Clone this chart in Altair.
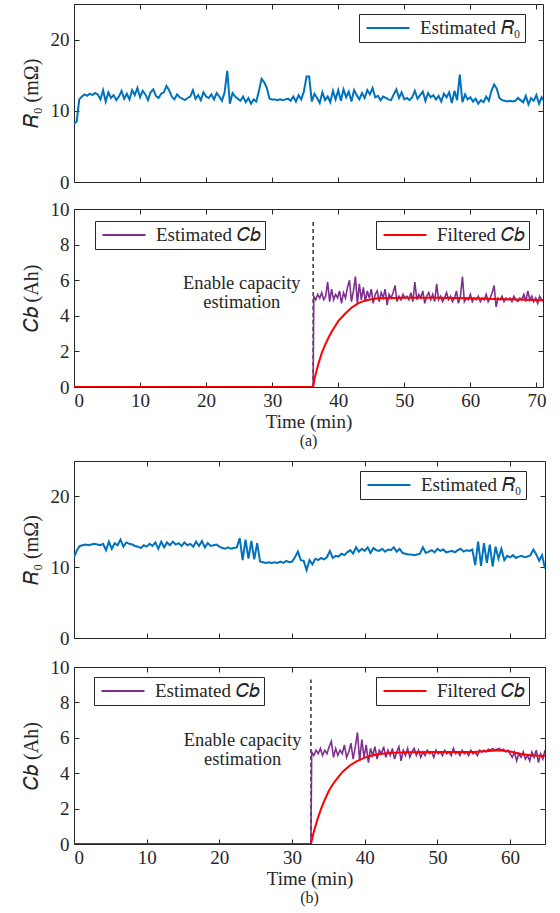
import altair as alt
import pandas as pd

FONT = "Liberation Serif"
INK = "#262626"
BLUE = "#0072BD"
PURPLE = "#7E2F8E"
RED = "#FF0000"

# ---------------- data: experiment (a) ----------------
r0_a_step = 0.4
r0_a = [
    8.2, 8.5, 11.6, 12.0, 12.3, 12.1, 12.4, 12.2, 12.5, 12.3,
    11.6, 12.9, 11.3, 12.6, 11.8, 12.2, 11.5, 12.0, 12.8, 11.7,
    12.4, 11.6, 12.9, 12.2, 13.2, 11.9, 12.8, 12.3, 11.5, 12.6,
    13.0, 12.1, 11.8, 12.4, 12.6, 13.5, 12.9, 12.0, 11.6, 12.3,
    11.9, 11.7, 11.5, 11.8, 12.0, 12.9, 11.7, 12.2, 11.5, 12.6,
    12.0, 11.8, 12.3, 11.6, 12.5, 12.0, 11.4, 12.6, 15.6, 11.0,
    12.5, 12.0, 11.7, 11.4, 12.0, 11.2, 11.8, 11.0, 11.6, 11.3,
    12.8, 14.5, 14.0, 13.2, 11.7, 11.6, 11.6, 11.5, 11.6, 11.5,
    11.6, 11.7, 11.4, 12.0, 11.3, 12.2, 11.6, 12.7, 14.8, 14.8,
    11.3, 12.4, 11.8, 11.1, 12.6, 11.5, 12.0, 11.2, 12.8, 11.6,
    12.9, 11.4, 13.0, 11.9, 12.7, 11.3, 12.9, 12.2, 11.6, 12.5,
    11.8, 12.9, 12.3, 13.2, 11.9, 12.1, 11.5, 12.0, 11.8, 11.6,
    11.5, 12.3, 13.0, 11.8, 12.6, 11.6, 11.8, 11.5, 11.9, 12.8,
    11.7, 12.2, 12.7, 11.4, 12.5, 11.9, 12.2, 11.6, 12.1, 11.3,
    12.4, 11.9, 12.6, 11.1, 12.8, 11.5, 15.1, 11.2, 12.3, 11.6,
    11.9, 11.3, 11.7, 11.0, 11.5, 11.2, 12.0, 11.4, 12.8, 13.7,
    13.1, 11.8, 11.5, 11.4, 11.3, 11.4, 11.3, 11.4, 11.8, 11.5,
    11.2, 12.1, 10.9, 11.8, 11.4, 12.2, 11.0, 11.9, 11.3,
]
enable_a = 36.2
cb_est_a_start = 36.3
cb_est_a_step = 0.3
cb_est_a = [
    5.1, 4.9, 5.2, 5.0, 5.3, 4.9, 5.1, 5.9, 4.8, 5.5,
    4.9, 5.2, 5.0, 5.4, 4.7, 5.3, 5.0, 5.6, 6.0, 4.8,
    5.4, 6.2, 4.7, 5.8, 4.9, 5.6, 4.8, 5.4, 5.0, 5.5,
    4.7, 5.2, 5.4, 4.8, 5.3, 5.0, 5.5, 4.6, 5.2, 5.0,
    5.3, 5.7, 4.8, 5.1, 4.9, 5.2, 5.0, 5.1, 4.9, 5.3,
    4.8, 5.9, 4.9, 5.2, 5.0, 5.4, 4.7, 5.1, 5.3, 4.9,
    5.2, 4.8, 5.8, 4.9, 5.1, 4.8, 5.0, 5.3, 4.9, 5.1,
    4.8, 5.0, 5.4, 4.7, 5.1, 6.2, 4.8, 5.0, 4.9, 5.2,
    4.8, 5.0, 4.9, 5.1, 4.8, 5.0, 4.9, 5.2, 4.8, 5.0,
    5.3, 5.7, 4.5, 5.0, 4.9, 5.1, 4.8, 5.0, 4.9, 5.0,
    4.8, 5.1, 4.9, 4.8, 5.0, 4.9, 5.2, 4.8, 5.4, 4.9,
    5.1, 4.8, 5.0, 4.7, 5.1, 4.9, 4.8,
]
cb_filt_a_t = [0, 36.2, 36.5, 37.0, 37.5, 38.0, 38.5, 39.0, 39.5, 40.0, 41.0, 42.0,
               43.0, 44.0, 45.0, 46.0, 48.0, 50.0, 55.0, 60.0, 65.0, 71.0]
cb_filt_a = [0, 0, 0.6, 1.3, 1.9, 2.35, 2.75, 3.1, 3.4, 3.7, 4.1, 4.45,
             4.7, 4.85, 4.93, 4.98, 5.0, 5.02, 5.02, 4.98, 4.93, 4.88]

# ---------------- data: experiment (b) ----------------
r0_b_step = 0.4
r0_b = [
    11.4, 12.4, 13.0, 13.1, 13.2, 13.1, 13.2, 13.3, 13.2, 13.1,
    13.3, 12.4, 13.6, 12.6, 13.4, 13.1, 13.9, 12.9, 13.5, 13.3,
    13.2, 13.0, 12.9, 12.7, 13.1, 12.9, 13.3, 13.0, 13.5, 12.6,
    13.6, 12.8, 13.5, 13.1, 13.6, 13.2, 13.4, 13.0, 13.5, 13.1,
    13.3, 12.9, 13.6, 13.0, 13.7, 12.8, 13.4, 13.0, 13.1, 13.2,
    12.9, 12.7, 12.6, 12.8, 12.6, 12.7, 12.8, 14.1, 11.0, 13.9,
    11.2, 13.7, 11.1, 13.4, 10.8, 10.7, 10.6, 10.7, 10.6, 10.7,
    10.6, 10.8, 10.6, 10.9, 10.7, 10.8, 11.4, 12.2, 11.0, 10.9,
    9.6, 11.0, 10.4, 11.2, 11.0, 11.3, 11.1, 11.4, 12.3, 11.3,
    11.6, 11.5, 11.9, 11.7, 12.1, 12.4, 11.9, 12.8, 12.2, 12.6,
    12.3, 12.8, 12.0, 12.7, 12.4, 12.3, 12.6, 12.2, 12.5, 12.4,
    12.8, 12.2, 12.6, 12.0, 11.9, 11.8, 11.8, 11.7, 11.8, 11.9,
    12.8, 12.0, 12.2, 12.4, 12.1, 12.6, 12.3, 12.5, 12.1, 12.2,
    12.3, 12.1, 12.4, 12.6, 12.2, 12.4, 12.3, 12.5, 10.3, 13.6,
    10.2, 13.4, 10.6, 13.2, 10.1, 12.9, 11.2, 12.6, 11.0, 11.6,
    11.4, 11.7, 11.3, 11.5, 11.6, 11.4, 11.5, 11.7, 12.5, 11.8,
    10.9, 11.7, 9.8,
]
enable_b = 32.6
cb_est_b_start = 32.7
cb_est_b_step = 0.3
cb_est_b = [
    5.2, 5.0, 5.3, 5.1, 5.4, 5.0, 5.3, 5.1, 5.5, 5.8,
    4.9, 5.4, 5.0, 5.3, 5.1, 5.6, 4.9, 5.2, 5.7, 4.8,
    5.5, 6.3, 4.7, 5.9, 4.9, 5.6, 4.6, 5.4, 5.0, 5.5,
    4.8, 5.3, 5.1, 5.5, 4.9, 5.3, 5.0, 5.4, 4.8, 5.2,
    5.5, 4.7, 5.3, 5.0, 5.4, 4.9, 5.2, 5.4, 5.0, 5.3,
    4.9, 5.2, 5.0, 5.3, 5.1, 5.2, 4.9, 5.3, 5.1, 5.2,
    5.0, 5.3, 5.1, 5.2, 5.0, 5.4, 5.1, 5.2, 5.0, 5.3,
    5.1, 5.2, 5.0, 5.3, 5.1, 5.2, 5.0, 5.3, 5.2, 5.3,
    5.2, 5.35, 5.3, 5.4, 5.3, 5.35, 5.4, 5.3, 5.35, 5.2,
    5.3, 5.1, 4.9, 5.2, 4.7, 5.1, 4.9, 5.2, 4.8, 5.0,
    4.7, 5.2, 4.9, 5.3, 4.6, 5.1, 4.8, 5.3,
]
cb_filt_b_t = [0, 32.6, 33.0, 33.5, 34.0, 34.5, 35.0, 35.5, 36.0, 37.0, 38.0, 39.0,
               40.0, 41.0, 42.0, 44.0, 46.0, 50.0, 55.0, 57.0, 58.5, 60.0, 61.5, 63.0, 65.0]
cb_filt_b = [0, 0, 0.7, 1.4, 2.0, 2.5, 2.95, 3.3, 3.6, 4.1, 4.45, 4.7,
             4.88, 5.0, 5.08, 5.15, 5.18, 5.2, 5.2, 5.25, 5.3, 5.22, 5.08, 5.0, 4.98]

annot_text = "Enable capacity\nestimation"
R0_NAME = "Estimated 𝑅₀"
EST_NAME = "Estimated 𝐶𝑏"
FILT_NAME = "Filtered 𝐶𝑏"
R0_TITLE = "𝑅₀ (mΩ)"
CB_TITLE = "𝐶𝑏 (Ah)"
X_TITLE = "Time (min)"


def series_df(t, v, name):
    return pd.DataFrame({"t": t, "v": v, "s": name})


def stepped(start, step, vals):
    return [round(start + i * step, 3) for i in range(len(vals))]


def legend(x, y):
    return alt.Legend(
        title=None, orient="none", legendX=x, legendY=y,
        strokeColor=INK, fillColor="white", padding=4,
        symbolType="M-2.5,0L2.5,0", symbolSize=296, symbolStrokeWidth=2,
        symbolOffset=15, labelOffset=22,
        labelFont=FONT, labelFontSize=19, labelColor=INK, labelLimit=0,
    )


def frame_layers(df, xs, ys, W, H, xticks, yticks, xlabels, ytitle):
    base = alt.Chart(df).mark_line(opacity=0)
    main = base.encode(
        x=alt.X("t:Q", scale=xs, title=X_TITLE if xlabels else None,
                axis=alt.Axis(orient="bottom", values=xticks, labels=xlabels, ticks=False,
                              domain=False, grid=False, labelPadding=4, titlePadding=2)),
        y=alt.Y("v:Q", scale=ys, title=ytitle,
                axis=alt.Axis(orient="left", values=yticks, ticks=False, domain=False,
                              grid=False, labelPadding=5, titlePadding=9,
                              titleFont=FONT, titleFontSize=20, titleLimit=300)),
    )
    t_a = base.encode(
        x=alt.X("t:Q", scale=xs, title=None,
                axis=alt.Axis(orient="top", offset=-H, values=xticks, labels=False,
                              domain=False, grid=False, ticks=True, tickSize=5)),
        y=alt.Y("v:Q", scale=ys, title=None,
                axis=alt.Axis(orient="right", offset=-W, values=yticks, labels=False,
                              domain=False, grid=False, ticks=True, tickSize=5)),
    )
    t_b = base.encode(
        x=alt.X("t:Q", scale=xs, title=None,
                axis=alt.Axis(orient="bottom", offset=-H, values=xticks, labels=False,
                              domain=False, grid=False, ticks=True, tickSize=5)),
        y=alt.Y("v:Q", scale=ys, title=None,
                axis=alt.Axis(orient="left", offset=-W, values=yticks, labels=False,
                              domain=False, grid=False, ticks=True, tickSize=5)),
    )
    return [main, t_a, t_b]


def line(df, xs, ys, color, lx, ly, width=2.0):
    name = df["s"].iloc[0]
    return alt.Chart(df).mark_line(strokeWidth=width, clip=True).encode(
        x=alt.X("t:Q", scale=xs, axis=None),
        y=alt.Y("v:Q", scale=ys, axis=None),
        color=alt.Color("s:N", scale=alt.Scale(domain=[name], range=[color]),
                        legend=legend(lx, ly)),
    )


def r0_panel(t, v, xmax, xticks, W, H, lx, ly):
    xs = alt.Scale(domain=[0, xmax], nice=False, zero=False)
    ys = alt.Scale(domain=[0, 25], nice=False)
    df = series_df(t, v, R0_NAME)
    layers = frame_layers(df, xs, ys, W, H, xticks, [0, 10, 20], False, R0_TITLE)
    layers.append(line(df, xs, ys, BLUE, lx, ly))
    return alt.layer(*layers).resolve_scale(color="independent").resolve_axis(
        x="independent", y="independent").properties(width=W, height=H)


def cb_panel(t_est, v_est, t_f, v_f, t_on, txt_x, txt_y, xmax, xticks, W, H,
             l1, l2, caption):
    xs = alt.Scale(domain=[0, xmax], nice=False, zero=False)
    ys = alt.Scale(domain=[0, 10], nice=False)
    est = series_df(t_est, v_est, EST_NAME)
    filt = series_df(t_f, v_f, FILT_NAME)
    layers = frame_layers(est, xs, ys, W, H, xticks, list(range(0, 11, 2)), True, CB_TITLE)
    rule = alt.Chart(pd.DataFrame({"t": [t_on], "y0": [0], "y1": [9.3]})).mark_rule(
        strokeDash=[4, 3], color="black", strokeWidth=1.2).encode(
        x=alt.X("t:Q", scale=xs, axis=None),
        y=alt.Y("y0:Q", scale=ys, axis=None), y2="y1:Q")
    txt = alt.Chart(pd.DataFrame({"t": [txt_x], "v": [txt_y], "s": [annot_text]})).mark_text(
        font=FONT, fontSize=18.5, lineBreak="\n", lineHeight=19.5, align="center",
        baseline="middle", color=INK).encode(
        x=alt.X("t:Q", scale=xs, axis=None),
        y=alt.Y("v:Q", scale=ys, axis=None), text="s:N")
    layers += [rule, line(est, xs, ys, PURPLE, l1[0], l1[1], 1.6),
               line(filt, xs, ys, RED, l2[0], l2[1], 2.0), txt]
    return alt.layer(*layers).resolve_scale(color="independent").resolve_axis(
        x="independent", y="independent").properties(
        width=W, height=H,
        title=alt.TitleParams(caption, orient="bottom", font=FONT, fontSize=16,
                              fontWeight="normal", color=INK, offset=2))


WA, HA = 469, 178
WB, HB = 471, 177

p1 = r0_panel(stepped(0, r0_a_step, r0_a), r0_a, 71, list(range(0, 71, 10)), WA, HA, 285, 10)
p2 = cb_panel([0, enable_a] + stepped(cb_est_a_start, cb_est_a_step, cb_est_a),
              [0, 0] + cb_est_a, cb_filt_a_t, cb_filt_a, enable_a, 25.4, 5.85,
              71, list(range(0, 71, 10)), WA, HA, (21, 12), (302, 12), "(a)")
p3 = r0_panel(stepped(0, r0_b_step, r0_b), r0_b, 64.8, list(range(0, 61, 10)), WB, HB, 286, 10)
p4 = cb_panel([0, enable_b] + stepped(cb_est_b_start, cb_est_b_step, cb_est_b),
              [0, 0] + cb_est_b, cb_filt_b_t, cb_filt_b, enable_b, 23.2, 5.9,
              64.8, list(range(0, 61, 10)), WB, HB, (20, 10), (302, 10), "(b)")

chart = alt.vconcat(
    alt.vconcat(p1, p2, spacing=6),
    alt.vconcat(p3, p4, spacing=8),
    spacing=10,
).properties(
    padding={"left": 20, "top": 3, "right": 4, "bottom": 4},
    background="white",
).configure_view(
    stroke=INK, strokeWidth=1,
).configure_axis(
    labelFont=FONT, labelFontSize=19, labelColor=INK,
    titleFont=FONT, titleFontSize=19, titleFontWeight="normal", titleColor=INK,
    tickColor=INK, tickWidth=1,
)

chart.save("out.html", embed_options={"renderer": "svg", "actions": False})
